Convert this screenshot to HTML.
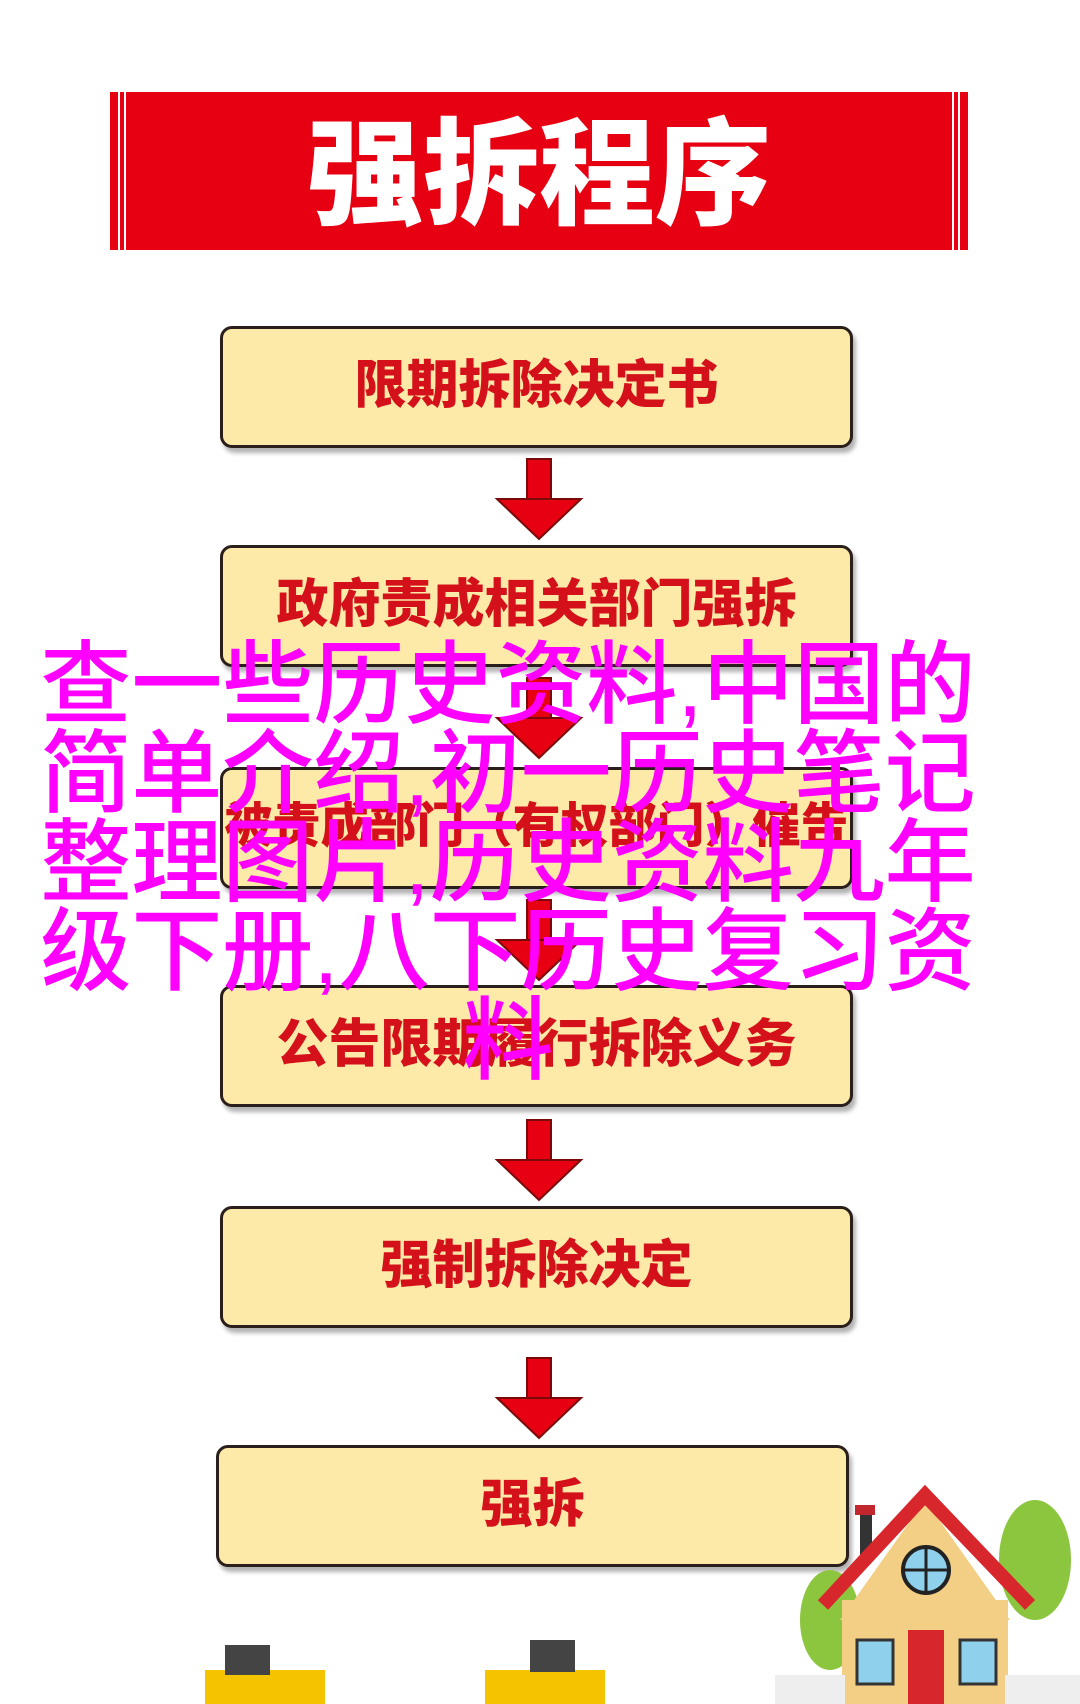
<!DOCTYPE html>
<html><head><meta charset="utf-8"><style>
html,body{margin:0;padding:0;background:#fff;}
body{width:1080px;height:1704px;position:relative;overflow:hidden;font-family:"Liberation Sans","Noto Sans CJK SC",sans-serif;}
.banner{position:absolute;left:110px;top:92px;width:858px;height:158px;background:#e60012;}
.banner:before,.banner:after{content:"";position:absolute;top:0;bottom:0;width:4px;border-left:2px solid #fff;border-right:2px solid #fff;}
.banner:before{left:8px}.banner:after{right:8px}
.banner span{position:absolute;left:0;right:0;top:18px;text-align:center;color:#fff;font-weight:900;font-size:116px;line-height:130px;letter-spacing:0px;}
.box{position:absolute;left:220px;width:633px;height:122px;background:#fdeaa8;border:3px solid #2a1f1a;border-radius:12px;box-shadow:3px 5px 4px rgba(0,0,0,.3);box-sizing:border-box;text-align:center;line-height:114px;color:#d4111b;font-weight:900;font-size:52px;white-space:nowrap;}
.mag{position:absolute;left:8px;width:1000px;top:641px;text-align:center;color:#f0f;font-size:91px;line-height:89px;font-weight:500;font-family:"Liberation Sans","Noto Sans CJK SC",sans-serif;}
</style></head><body>
<div class="banner"><span>强拆程序</span></div>

<div class="box" style="top:326px">限期拆除决定书</div>
<div class="box" style="top:545px">政府责成相关部门强拆</div>
<div class="box" style="top:767px;font-size:48px">被责成部门（有权部门）催告</div>
<div class="box" style="top:985px">公告限期履行拆除义务</div>
<div class="box" style="top:1206px">强制拆除决定</div>
<div class="box" style="top:1445px;left:216px">强拆</div>

<svg width="1080" height="1704" style="position:absolute;left:0;top:0" xmlns="http://www.w3.org/2000/svg">
<defs><g id="ar"><rect x="-12" y="0" width="24" height="46" fill="#e60012" stroke="#7a0a0a" stroke-width="2"/><polygon points="-42,40 42,40 0,80" fill="#e60012" stroke="#7a0a0a" stroke-width="2"/></g></defs>
<use href="#ar" x="539" y="459"/>
<use href="#ar" x="539" y="678"/>
<use href="#ar" x="539" y="900"/>
<use href="#ar" x="539" y="1120"/>
<use href="#ar" x="539" y="1358"/>
<g>
<ellipse cx="1035" cy="1560" rx="36" ry="60" fill="#8cc63f"/>
<ellipse cx="830" cy="1620" rx="30" ry="50" fill="#8cc63f"/>
<rect x="860" y="1510" width="12" height="50" fill="#333"/>
<rect x="855" y="1505" width="20" height="10" fill="#c1272d"/>
<polygon points="840,1620 925,1500 1010,1620" fill="#f2cf84"/>
<rect x="842" y="1600" width="166" height="104" fill="#f2cf84"/>
<polyline points="823,1605 925,1495 1030,1605" fill="none" stroke="#d7262c" stroke-width="14"/>
<circle cx="926" cy="1570" r="23" fill="#8fd0ec" stroke="#222" stroke-width="4"/>
<line x1="926" y1="1547" x2="926" y2="1593" stroke="#222" stroke-width="3"/>
<line x1="903" y1="1570" x2="949" y2="1570" stroke="#222" stroke-width="3"/>
<rect x="857" y="1640" width="36" height="44" fill="#8fd0ec" stroke="#333" stroke-width="3"/>
<rect x="960" y="1640" width="36" height="44" fill="#8fd0ec" stroke="#333" stroke-width="3"/>
<rect x="908" y="1630" width="36" height="74" fill="#d7262c"/>
<rect x="775" y="1675" width="70" height="29" fill="#eee"/>
<rect x="1005" y="1675" width="75" height="29" fill="#eee"/>
</g>
<g fill="#f5c400">
<rect x="205" y="1670" width="120" height="34"/>
<rect x="225" y="1645" width="45" height="30" fill="#444"/>
<rect x="485" y="1670" width="120" height="34"/>
<rect x="530" y="1640" width="45" height="32" fill="#444"/>
</g>
</svg>

<div class="mag">查一些历史资料,中国的<br>简单介绍,初一历史笔记<br>整理图片,历史资料九年<br>级下册,八下历史复习资<br>料</div>
</body></html>
